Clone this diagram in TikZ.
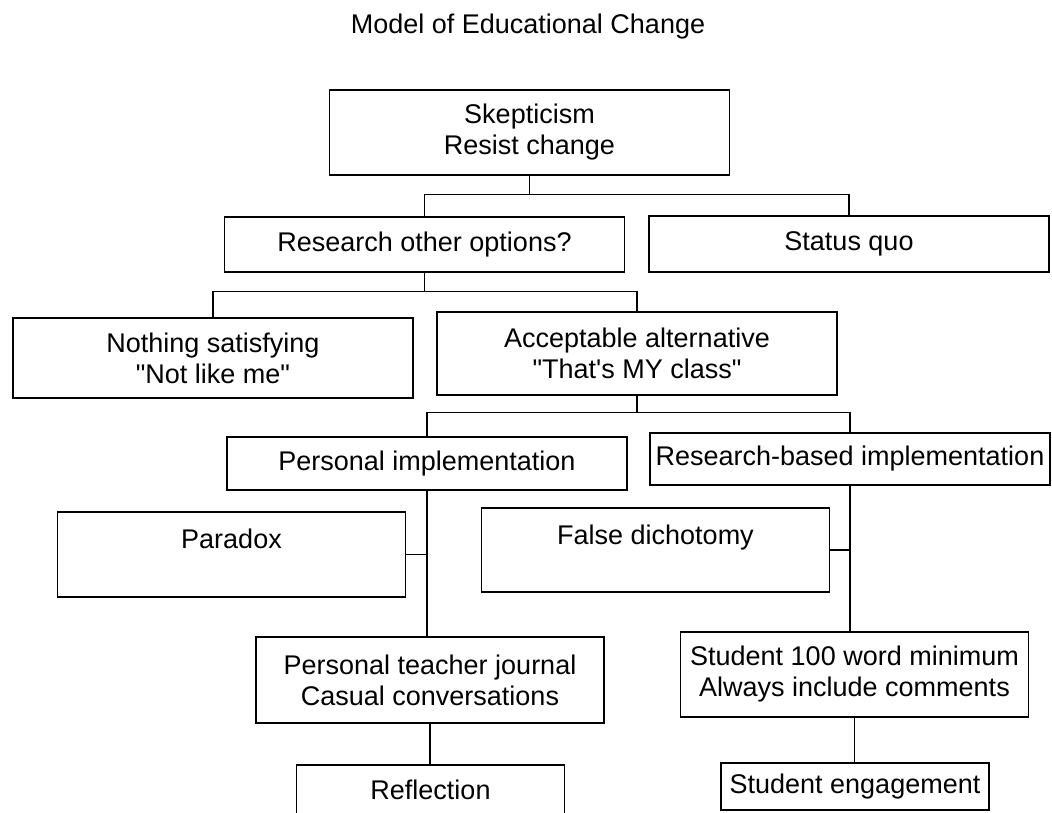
\documentclass[tikz,border=0pt]{standalone}
\usepackage{fontspec}
\setmainfont{Liberation Sans}[Ligatures=TeXOff]
\usepackage{tikz}

\begin{document}
\begin{tikzpicture}[x=1pt, y=-1pt, line width=1.1pt,
    box/.style={draw, align=center, inner sep=0pt, font=\fontsize{27}{31}\selectfont},
    widebox/.style={box, minimum width=400pt},
    midbox/.style={box, minimum width=348pt},
    smallbox/.style={box, minimum width=268pt}]

\useasboundingbox (0,0) rectangle (1052,812);

% Titel
\node[font=\fontsize{27}{31}\selectfont] (title) at (528,27) {Model of Educational Change};

% Erste Ebene
\node[widebox, minimum height=85pt] (skep) at (529.5,132.5) {Skepticism\\Resist change};
\node[widebox, minimum height=55pt] (resopt) at (424.5,244.5) {Research other options?};
\node[widebox, minimum height=56pt] (status) at (849,244) {Status quo};

% Zweite Ebene
\node[widebox, minimum height=80pt] (nothing) at (213,358) {Nothing satisfying\\"Not like me"};
\node[widebox, minimum height=83pt] (accept) at (637,353.5) {Acceptable alternative\\"That's MY class"};

% Umsetzung
\node[widebox, minimum height=53pt] (pimpl) at (427,463.5) {Personal implementation};
\node[widebox, minimum height=52pt] (rbased) at (850,459) {Research-based implementation};
\node[midbox, minimum height=85pt] (para) at (231.5,554.5) {Paradox\\[0pt]\mbox{}};
\node[midbox, minimum height=84pt] (fdich) at (655.5,550) {False dichotomy\\[0pt]\mbox{}};

% Untere Ebene
\node[midbox, minimum height=86pt] (journal) at (430,680) {Personal teacher journal\\Casual conversations};
\node[midbox, minimum height=85pt] (stud) at (854.5,674.5) {Student 100 word minimum\\Always include comments};
\node[smallbox, minimum height=50pt] (refl) at (430.5,790) {Reflection};
\node[smallbox, minimum height=47pt] (engage) at (855,786.5) {Student engagement};

% Verbindungen
\draw (skep.south) -- ++(0,19) coordinate (j1) -| (resopt.north);
\draw (j1) -| (status.north);
\draw (resopt.south) -- ++(0,19) coordinate (j2) -| (nothing.north);
\draw (j2) -| (accept.north);
\draw (accept.south) -- ++(0,17) coordinate (j3) -| (pimpl.north);
\draw (j3) -| (rbased.north);
\draw (pimpl.south) -- (pimpl.south |- journal.north);
\draw (para.east) -- (para.east -| pimpl.south);
\draw (rbased.south) -- (rbased.south |- stud.north);
\draw (fdich.east) -- (fdich.east -| rbased.south);
\draw (journal.south) -- (journal.south |- refl.north);
\draw (stud.south) -- (stud.south |- engage.north);

\end{tikzpicture}
\end{document}
